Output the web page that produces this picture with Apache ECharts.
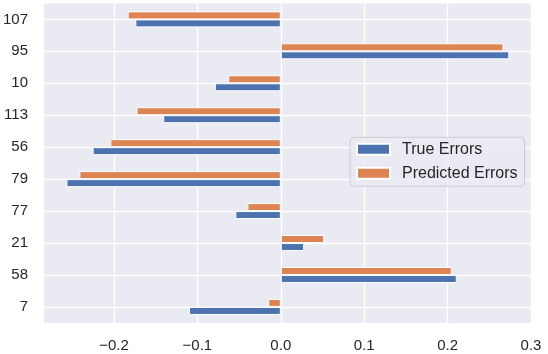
<!DOCTYPE html>
<html>
<head>
<meta charset="utf-8">
<script src="https://cdn.jsdelivr.net/npm/echarts@6/dist/echarts.min.js"></script>
<style>
  html, body { margin: 0; padding: 0; background: #fff; }
  #main { width: 548px; height: 354px; }
</style>
</head>
<body>
<div id="main"></div>
<script>
// categories listed bottom -> top
var categories = ['7', '58', '21', '77', '79', '56', '113', '10', '95', '107'];
var trueErrors = [-0.110, 0.211, 0.028, -0.0545, -0.257, -0.2256, -0.141, -0.079, 0.274, -0.1744];
var predictedErrors = [-0.015, 0.205, 0.052, -0.040, -0.2415, -0.2044, -0.173, -0.063, 0.267, -0.1836];
var xTicks = [-0.2, -0.1, 0.0, 0.1, 0.2, 0.3];

var chartDom = document.getElementById('main');
var myChart = echarts.init(chartDom, null, { renderer: 'canvas' });
var font = "'Liberation Sans', Arial, sans-serif";

var gridLines = [];
xTicks.forEach(function (v) { gridLines.push({ xAxis: v }); });
categories.forEach(function (c) { gridLines.push({ yAxis: c }); });

var option = {
  animation: false,
  textStyle: { fontFamily: font },
  grid: {
    left: 42.7, right: 17, top: 3.4, bottom: 31.1,
    show: true, backgroundColor: '#eaeaf2', borderWidth: 0
  },
  legend: {
    data: ['True Errors', 'Predicted Errors'],
    icon: 'rect',
    orient: 'vertical',
    left: 350, top: 137.3,
    itemWidth: 33, itemHeight: 11, itemGap: 8,
    padding: [4, 7, 5, 6],
    backgroundColor: 'rgba(234,234,242,0.8)',
    borderColor: '#cccccc', borderWidth: 1, borderRadius: 4,
    textStyle: { fontSize: 16, color: '#262626', fontFamily: font, padding: [0, 0, 0, 7] }
  },
  xAxis: {
    type: 'value',
    min: -0.2839, max: 0.3,
    axisLine: { show: false },
    axisTick: { show: false },
    splitLine: { show: false },
    axisLabel: {
      customValues: xTicks,
      fontSize: 15, color: '#262626', margin: 15,
      formatter: function (v) {
        var s = Math.abs(v).toFixed(1);
        return (v < -1e-9 ? '\u2212' : '') + s;
      }
    }
  },
  yAxis: {
    type: 'category',
    data: categories,
    axisLine: { show: false },
    axisTick: { show: false },
    splitLine: { show: false },
    axisLabel: { fontSize: 15, color: '#262626', margin: 16 }
  },
  series: [
    {
      name: 'grid',
      type: 'line',
      data: [],
      silent: true,
      markLine: {
        z: 1,
        silent: true,
        symbol: ['none', 'none'],
        label: { show: false },
        lineStyle: { color: '#ffffff', width: 1.3, type: 'solid' },
        data: gridLines
      }
    },
    // in a horizontal layout the first bar series sits on top of its band
    {
      name: 'Predicted Errors',
      type: 'bar',
      z: 3,
      data: predictedErrors,
      barWidth: 8,
      barGap: '0%',
      itemStyle: { color: '#dd8452', borderColor: '#ffffff', borderWidth: 1 }
    },
    {
      name: 'True Errors',
      type: 'bar',
      z: 3,
      data: trueErrors,
      barWidth: 8,
      barGap: '0%',
      itemStyle: { color: '#4c72b0', borderColor: '#ffffff', borderWidth: 1 }
    }
  ]
};

option && myChart.setOption(option);
</script>
</body>
</html>
